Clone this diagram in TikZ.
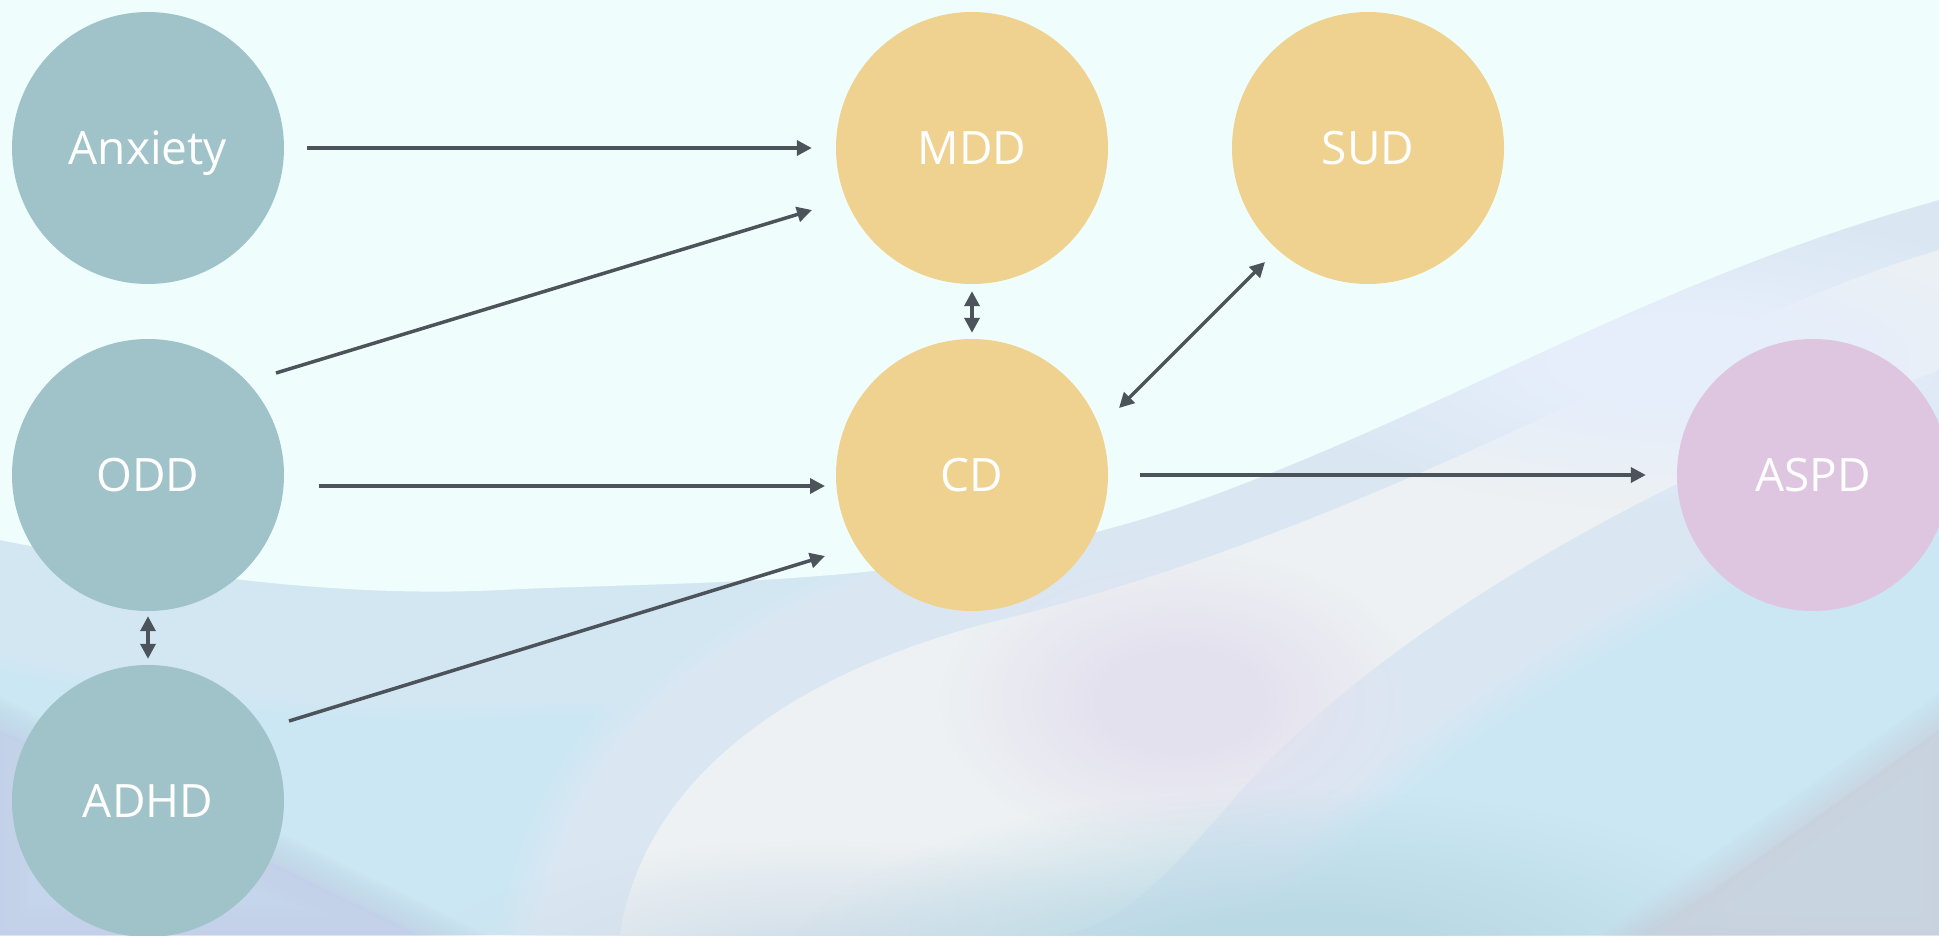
\documentclass[tikz,border=0pt]{standalone}
\usepackage{fontspec}
\setmainfont{Open Sans}
\usetikzlibrary{arrows.meta,fadings}
\definecolor{bgcyan}{HTML}{EFFEFD}
\definecolor{bgblue}{HTML}{CBE7F3}
\definecolor{bgbluedeep}{HTML}{B9D9E5}
\definecolor{bgbluegrey}{HTML}{D3E0EA}
\definecolor{bgpale}{HTML}{EDF1F3}
\definecolor{bgpink}{HTML}{E4E1EF}
\definecolor{bglavender}{HTML}{E6EEFB}
\definecolor{bgcornerleft}{HTML}{C3CFE9}
\definecolor{bgcornerright}{HTML}{C8D2DE}
\definecolor{earlyteal}{HTML}{9FC3C9}
\definecolor{midgold}{HTML}{F0D290}
\definecolor{latepink}{HTML}{DEC6E1}
\definecolor{linkgray}{HTML}{4D535A}
\pgfdeclareradialshading{plateaushade}{\pgfpointorigin}{color(0bp)=(pgftransparent!0); color(8bp)=(pgftransparent!0); color(25bp)=(pgftransparent!100); color(50bp)=(pgftransparent!100)}
\pgfdeclarefading{plateau}{\pgfuseshading{plateaushade}}
\begin{document}
\begin{tikzpicture}[x=1pt,y=-1pt,
    disorder/.style={circle,minimum size=272pt,inner sep=0pt,text=white,
      text height=33pt,text depth=0pt,font=\fontsize{46}{46}\selectfont},
    early/.style={disorder,fill=earlyteal},
    mid/.style={disorder,fill=midgold},
    late/.style={disorder,fill=latepink},
    blob/.style={path fading=plateau},
    link/.style={line width=3.5pt,draw=linkgray,-{Triangle[length=15pt,width=15pt]}},
    both/.style={link,{Triangle[length=15pt,width=15pt]}-{Triangle[length=15pt,width=15pt]}}]
  \useasboundingbox (0,0) rectangle (1939,935);
  \clip (0,0) rectangle (1939,935);
  % background
  \fill[bgblue] (0,0) rectangle (1939,935);
  \def\palewedge{(620,935) .. controls (640,800) and (760,680) .. (1000,620)
    .. controls (1400,520) and (1700,320) .. (1939,250) -- (1939,370)
    .. controls (1650,480) and (1400,620) .. (1250,780)
    .. controls (1180,860) and (1120,935) .. (1050,935) -- cycle}
  \foreach \w in {6,12,...,240}
    \draw[bgpale,line width=\w pt,opacity=0.05] \palewedge;
  \fill[bgpale] \palewedge;
  \fill[bgpink,blob] (1180,700) ellipse (240 and 150);
  \fill[bglavender,blob] (1680,360) ellipse (420 and 150);
  \fill[bgbluegrey,blob] (820,990) ellipse (420 and 150);
  \fill[bgbluedeep,blob] (1300,980) ellipse (520 and 190);
  \def\cornerleft{(0,730) -- (420,935) -- (0,935) -- cycle}
  \def\cornerright{(1939,730) -- (1939,935) -- (1650,935) -- cycle}
  \foreach \w in {4,8,...,60}
    {\draw[bgcornerleft,line width=\w pt,opacity=0.05] \cornerleft;
     \draw[bgcornerright,line width=\w pt,opacity=0.05] \cornerright;}
  \fill[bgcornerleft,opacity=0.75] \cornerleft;
  \fill[bgcornerright,opacity=0.85] \cornerright;
  \def\cyanzone{(0,0) -- (1939,0) -- (1939,200)
    .. controls (1650,280) and (1450,410) .. (1200,500)
    .. controls (950,590) and (700,580) .. (500,590)
    .. controls (300,600) and (100,560) .. (0,540) -- cycle}
  \foreach \w in {5,10,...,260}
    \draw[bgcyan,line width=\w pt,opacity=0.035] \cyanzone;
  \fill[bgcyan] \cyanzone;
  % disorders
  \node[early] (anx) at (148,148) {Anxiety};
  \node[early] (odd) at (148,475) {ODD};
  \node[early] (adhd) at (148,801) {ADHD};
  \node[mid] (mdd) at (972,148) {MDD};
  \node[mid] (cd) at (972,475) {CD};
  \node[mid] (sud) at (1368,148) {SUD};
  \node[late] (aspd) at (1813,475) {ASPD};
  % links
  \draw[link,shorten <=23pt,shorten >=24pt] (anx.east) -- (mdd.west);
  \draw[link] ([xshift=128pt,yshift=102pt]odd.center) -- ([xshift=-160pt,yshift=-62pt]mdd.center);
  \draw[link] ([xshift=171pt,yshift=-11pt]odd.center) -- ([xshift=-147pt,yshift=-11pt]cd.center);
  \draw[link] ([xshift=141pt,yshift=80pt]adhd.center) -- ([xshift=-147pt,yshift=-81pt]cd.center);
  \draw[link,shorten <=32pt,shorten >=31pt] (cd.east) -- (aspd.west);
  \draw[both,shorten <=7pt,shorten >=6pt] (mdd.south) -- (cd.north);
  \draw[both,shorten <=5pt,shorten >=6pt] (odd.south) -- (adhd.north);
  \draw[both] ([xshift=147pt,yshift=67pt]cd.center) -- ([xshift=-103pt,yshift=-114pt]sud.center);
\end{tikzpicture}
\end{document}
